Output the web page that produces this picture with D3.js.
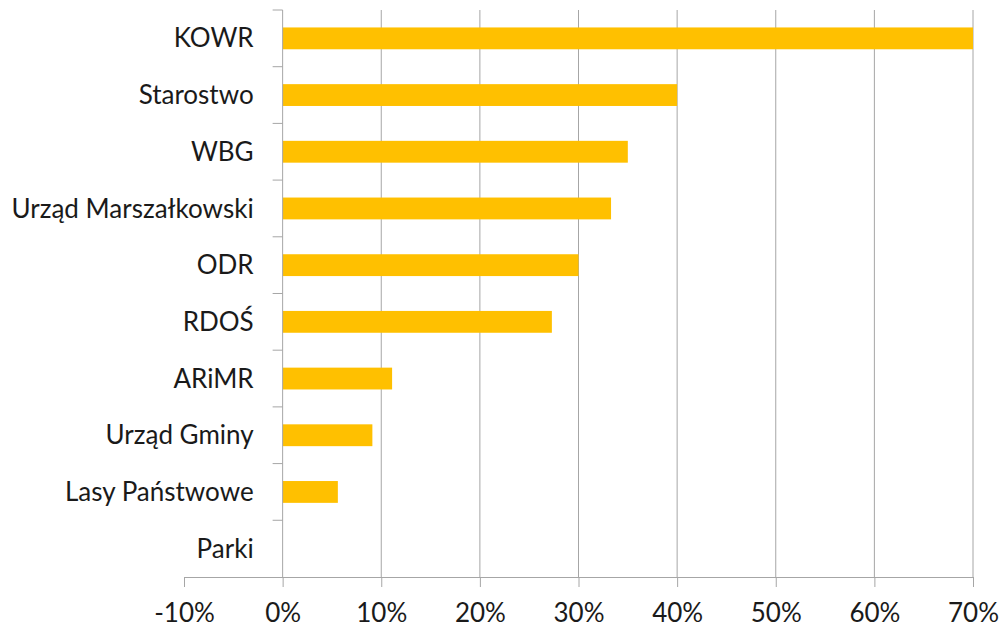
<!DOCTYPE html>
<html>
<head>
<meta charset="utf-8">
<script src="https://cdn.jsdelivr.net/npm/d3@7"></script>
<style>
  body { margin: 0; background: #fff; }
  text { font-family: Lato, "Open Sans", sans-serif; fill: #1a1a1a; }
</style>
</head>
<body>
<svg width="1003" height="630"></svg>
<script>
const categories = ['KOWR', 'Starostwo', 'WBG', 'Urząd Marszałkowski', 'ODR', 'RDOŚ', 'ARiMR', 'Urząd Gminy', 'Lasy Państwowe', 'Parki'];
const values = [0.70, 0.40, 0.35, 0.333, 0.30, 0.273, 0.111, 0.091, 0.056, 0];
const tickValues = [-0.1, 0, 0.1, 0.2, 0.3, 0.4, 0.5, 0.6, 0.7];

const svg = d3.select('svg');
const margin = { top: 10, left: 184, right: 30, bottom: 53 };
const width = +svg.attr('width') - margin.left - margin.right;
const height = +svg.attr('height') - margin.top - margin.bottom;

const x = d3.scaleLinear().domain([-0.1, 0.7]).range([margin.left, margin.left + width]);
const y = d3.scaleBand().domain(categories)
    .range([margin.top, margin.top + height])
    .paddingInner(0.615).paddingOuter(0.3077);

const gridColor = '#a6a6a6';

// vertical gridlines (skip -10% and 0%)
svg.append('g').selectAll('line')
    .data(tickValues.filter(d => d > 0))
    .join('line')
    .attr('x1', d => x(d)).attr('x2', d => x(d))
    .attr('y1', margin.top).attr('y2', margin.top + height)
    .attr('stroke', gridColor).attr('stroke-width', 1);

// bars
svg.append('g').selectAll('rect')
    .data(values)
    .join('rect')
    .attr('x', x(0))
    .attr('y', (d, i) => y(categories[i]))
    .attr('width', d => x(d) - x(0))
    .attr('height', y.bandwidth())
    .attr('fill', '#FFC000');

// x axis
const xAxis = d3.axisBottom(x)
    .tickValues(tickValues)
    .tickFormat(d => Math.round(d * 100) + '%')
    .tickSize(10).tickSizeOuter(0);
const gx = svg.append('g')
    .attr('transform', `translate(0,${margin.top + height})`)
    .call(xAxis);
gx.select('.domain').attr('stroke', gridColor);
gx.selectAll('.tick line').attr('stroke', gridColor);
gx.selectAll('.tick text').attr('dy', 0).attr('y', 45).style('font-size', '26px').style('fill', '#1a1a1a');

// category axis at 0%
const step = y.step();
const boundaries = d3.range(categories.length).map(i => margin.top + i * step);
const gy = svg.append('g');
gy.append('line')
    .attr('x1', x(0)).attr('x2', x(0))
    .attr('y1', margin.top).attr('y2', margin.top + height)
    .attr('stroke', gridColor);
gy.selectAll('line.tk')
    .data(boundaries)
    .join('line')
    .attr('class', 'tk')
    .attr('x1', x(0) - 10).attr('x2', x(0))
    .attr('y1', d => d).attr('y2', d => d)
    .attr('stroke', gridColor);

svg.append('g').selectAll('text')
    .data(categories)
    .join('text')
    .attr('x', x(0) - 29)
    .attr('y', d => y(d) + y.bandwidth() / 2)
    .attr('dy', '0.35em')
    .attr('text-anchor', 'end')
    .style('font-size', '26px')
    .text(d => d);
</script>
</body>
</html>
